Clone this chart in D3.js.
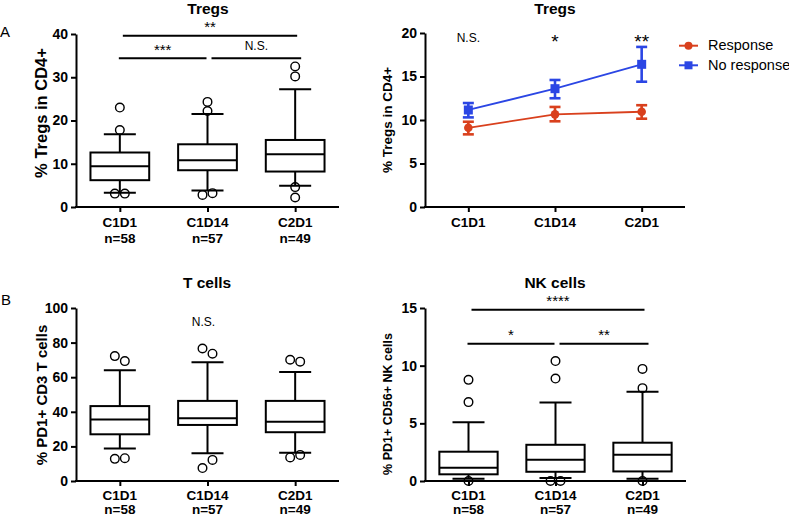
<!DOCTYPE html>
<html>
<head>
<meta charset="utf-8">
<script src="https://cdn.jsdelivr.net/npm/d3@7"></script>
<style>
body { margin: 0; background: #fff; }
text { font-family: "Liberation Sans", Arial, sans-serif; }
</style>
</head>
<body>
<div class="fig"></div>
<script>
var categories = ["C1D1", "C1D14", "C2D1"];
var nLabels = ["n=58", "n=57", "n=49"];

// box stats per category: [whisker low, q1, median, q3, whisker high]
var tregsBox = [[3.3, 6.2, 9.4, 12.6, 16.8], [3.8, 8.5, 10.8, 14.5, 21.5], [4.9, 8.2, 12.2, 15.5, 27.2]];
var tregsOut = [[23.0, 17.8, 3.1, 3.1], [24.3, 22.2, 2.8, 3.2], [32.5, 30.2, 4.6, 2.2]];
var tregsTicks = [0, 10, 20, 30, 40];

var responseMean = [9.1, 10.65, 10.95];
var responseLo = [8.35, 9.85, 10.15];
var responseHi = [9.8, 11.5, 11.7];
var noRespMean = [11.15, 13.6, 16.4];
var noRespLo = [10.3, 12.5, 14.4];
var noRespHi = [11.95, 14.6, 18.4];
var lineTicks = [0, 5, 10, 15, 20];
var lineSig = ["N.S.", "*", "**"];

var tcellBox = [[18.8, 27, 35.6, 43.3, 64], [16.1, 32.4, 36.2, 46.3, 68.6], [16.3, 28.2, 34.3, 46.3, 63]];
var tcellOut = [[72.2, 69.3, 12.8, 13.2], [76.6, 73.6, 7.5, 12.2], [70.1, 69, 13.6, 15.1]];
var tcellTicks = [0, 20, 40, 60, 80, 100];

var nkBox = [[0.2, 0.58, 1.15, 2.54, 5.1], [0.26, 0.8, 1.84, 3.14, 6.8], [0.2, 0.83, 2.28, 3.32, 7.73]];
var nkOut = [[8.77, 6.84, 0], [10.4, 8.88, 0, 0], [9.72, 8.05, 0]];
var nkTicks = [0, 5, 10, 15];

// significance bars: [from, to, y value, label]
var tregsSig = [[0, 2, 39.6, "**"], [0, 1, 34.4, "***"], [1, 2, 34.4, "N.S."]];
var nkSig = [[0, 2, 14.85, "****"], [0, 1, 11.9, "*"], [1, 2, 11.9, "**"]];

var red = "#d9401d", blue = "#2b46e4";

var svg = d3.select(".fig").append("svg")
    .attr("width", 789)
    .attr("height", 516);

function asterisk(g, x, yc, label, fs) {
    g.append("text").text(label)
        .attr("x", x).attr("y", yc + 0.58 * fs)
        .attr("text-anchor", "middle")
        .attr("font-size", fs + "px");
}

function frame(o) {
    var g = svg.append("g");
    var x = d3.scalePoint().domain(categories).range([o.x0, o.x1]).padding(0.5);
    var y = d3.scaleLinear().domain([0, o.max]).range([o.y1, o.y0]);

    var ya = g.append("g").attr("transform", "translate(" + o.x0 + ",0)")
        .call(d3.axisLeft(y).tickValues(o.ticks).tickSize(5).tickSizeOuter(0).tickPadding(3));
    var xa = g.append("g").attr("transform", "translate(0," + o.y1 + ")")
        .call(d3.axisBottom(x).tickSize(5).tickSizeOuter(0).tickFormat(""));
    g.selectAll(".domain").attr("stroke-width", 2).attr("stroke", "#000");
    xa.select(".domain").attr("d", "M" + (o.x0 - 1) + ",0H" + o.x1);
    g.selectAll(".tick line").attr("stroke-width", 2).attr("stroke", "#000");
    ya.selectAll(".tick text").attr("font-size", "14px").attr("font-weight", "bold")
        .attr("fill", "#000").attr("font-family", "Liberation Sans, Arial, sans-serif");

    categories.forEach(function (c, i) {
        g.append("text").text(c).attr("x", x(c)).attr("y", o.y1 + o.lab1)
            .attr("text-anchor", "middle").attr("font-size", "13.5px").attr("font-weight", "bold");
        if (o.nLab) {
            g.append("text").text(nLabels[i]).attr("x", x(c)).attr("y", o.y1 + o.lab2)
                .attr("text-anchor", "middle").attr("font-size", "13.5px").attr("font-weight", "bold");
        }
    });

    g.append("text").text(o.title).attr("x", o.tx).attr("y", o.ty)
        .attr("text-anchor", "middle").attr("font-size", "15.5px").attr("font-weight", "bold");

    g.append("text").text(o.ylabel)
        .attr("transform", "translate(" + o.lx + "," + o.ly + ") rotate(-90)")
        .attr("text-anchor", "middle").attr("font-size", o.lsize + "px").attr("font-weight", "bold");
    return { g: g, x: x, y: y };
}

function boxes(p, box, out) {
    var g = p.g, x = p.x, y = p.y;
    var bw = x.step() * 0.67, cw = 32;
    categories.forEach(function (c, i) {
        var s = box[i], cx = x(c);
        var b = g.append("g").attr("stroke", "#000").attr("stroke-width", 2).attr("fill", "none");
        b.append("line").attr("x1", cx).attr("x2", cx).attr("y1", y(s[0])).attr("y2", y(s[1]));
        b.append("line").attr("x1", cx).attr("x2", cx).attr("y1", y(s[3])).attr("y2", y(s[4]));
        [s[0], s[4]].forEach(function (v) {
            b.append("line").attr("x1", cx - cw / 2).attr("x2", cx + cw / 2).attr("y1", y(v)).attr("y2", y(v));
        });
        b.append("rect").attr("x", cx - bw / 2).attr("width", bw)
            .attr("y", y(s[3])).attr("height", y(s[1]) - y(s[3])).attr("fill", "#fff");
        b.append("line").attr("x1", cx - bw / 2).attr("x2", cx + bw / 2).attr("y1", y(s[2])).attr("y2", y(s[2]));

        // outliers close together get spread sideways
        var pts = out[i].map(function (v) { return { v: v, dx: 0 }; });
        var above = pts.filter(function (d) { return d.v > s[2]; }).sort(function (a, b) { return b.v - a.v; });
        var below = pts.filter(function (d) { return d.v <= s[2]; }).sort(function (a, b) { return a.v - b.v; });
        [above, below].forEach(function (grp) {
            for (var k = 0; k < grp.length - 1; k++) {
                if (Math.abs(y(grp[k].v) - y(grp[k + 1].v)) < 9 && grp[k].dx === 0) {
                    grp[k].dx = -5; grp[k + 1].dx = 5; k++;
                }
            }
        });
        g.selectAll(null).data(pts).enter().append("circle")
            .attr("cx", function (d) { return cx + d.dx; })
            .attr("cy", function (d) { return y(d.v); })
            .attr("r", 4.3)
            .attr("fill", "none").attr("stroke", "#000").attr("stroke-width", 1.4);
    });
}

function sigBars(p, sig) {
    var g = p.g, x = p.x, y = p.y;
    sig.forEach(function (s) {
        var x1 = x(categories[s[0]]), x2 = x(categories[s[1]]);
        if (s[1] - s[0] === 2) { x1 += 3; x2 += 2; }
        else if (s[0] === 0) { x1 -= 1; x2 -= 1; }
        else { x1 += 4; x2 += 6; }
        var yy = y(s[2]);
        g.append("line").attr("x1", x1).attr("x2", x2).attr("y1", yy).attr("y2", yy)
            .attr("stroke", "#000").attr("stroke-width", 2);
        var mx = (x1 + x2) / 2;
        if (s[3] === "N.S.") {
            g.append("text").text(s[3]).attr("x", mx).attr("y", yy - 8.5)
                .attr("text-anchor", "middle").attr("font-size", "12px");
        } else {
            asterisk(g, mx, yy - 12, s[3], 15);
        }
    });
}

// A left: Tregs box plot
var pA = frame({ x0: 76, x1: 339, y0: 34, y1: 207, max: 40, ticks: tregsTicks, nLab: true, lab1: 20, lab2: 35.5,
    title: "Tregs", tx: 208, ty: 13.5, ylabel: "% Tregs in CD4+", lx: 47, ly: 113, lsize: 16.5 });
boxes(pA, tregsBox, tregsOut);
sigBars(pA, tregsSig);

// A right: Tregs by response
var pL = frame({ x0: 425, x1: 685, y0: 33, y1: 207, max: 20, ticks: lineTicks, nLab: false, lab1: 20, lab2: 35.5,
    title: "Tregs", tx: 555, ty: 14, ylabel: "% Tregs in CD4+", lx: 392, ly: 120, lsize: 13.5 });

function series(p, mean, lo, hi, color, square) {
    var g = p.g, x = p.x, y = p.y;
    var line = d3.line().x(function (d, i) { return x(categories[i]); }).y(function (d) { return y(d); });
    g.append("path").datum(mean).attr("d", line).attr("fill", "none")
        .attr("stroke", color).attr("stroke-width", 1.8);
    categories.forEach(function (c, i) {
        var cx = x(c);
        var e = g.append("g").attr("stroke", color).attr("stroke-width", 2.6);
        e.append("line").attr("x1", cx).attr("x2", cx).attr("y1", y(lo[i])).attr("y2", y(hi[i]));
        [lo[i], hi[i]].forEach(function (v) {
            e.append("line").attr("x1", cx - 5.5).attr("x2", cx + 5.5).attr("y1", y(v)).attr("y2", y(v));
        });
        if (square) {
            g.append("rect").attr("x", cx - 4.5).attr("y", y(mean[i]) - 4.5)
                .attr("width", 9).attr("height", 9).attr("fill", color);
        } else {
            g.append("circle").attr("cx", cx).attr("cy", y(mean[i])).attr("r", 4.3).attr("fill", color);
        }
    });
}
series(pL, responseMean, responseLo, responseHi, red, false);
series(pL, noRespMean, noRespLo, noRespHi, blue, true);

categories.forEach(function (c, i) {
    if (lineSig[i] === "N.S.") {
        pL.g.append("text").text(lineSig[i]).attr("x", pL.x(c)).attr("y", pL.y(18.96))
            .attr("text-anchor", "middle").attr("font-size", "12px");
    } else {
        asterisk(pL.g, pL.x(c), pL.y(19.5), lineSig[i], 19);
    }
});

var legend = svg.append("g");
[["Response", red, false], ["No response", blue, true]].forEach(function (d, i) {
    var ly = 45.7 + i * 19.6;
    legend.append("line").attr("x1", 679).attr("x2", 698).attr("y1", ly).attr("y2", ly)
        .attr("stroke", d[1]).attr("stroke-width", 2);
    if (d[2]) {
        legend.append("rect").attr("x", 688.5 - 4).attr("y", ly - 4).attr("width", 8).attr("height", 8).attr("fill", d[1]);
    } else {
        legend.append("circle").attr("cx", 688.5).attr("cy", ly).attr("r", 4).attr("fill", d[1]);
    }
    legend.append("text").text(d[0]).attr("x", 708).attr("y", ly + 4.6).attr("font-size", "14.5px");
});

// B left: T cells
var pT = frame({ x0: 76, x1: 339, y0: 308, y1: 481, max: 100, ticks: tcellTicks, nLab: true, lab1: 18.5, lab2: 32.5,
    title: "T cells", tx: 207, ty: 288, ylabel: "% PD1+ CD3 T cells", lx: 47, ly: 395, lsize: 15 });
boxes(pT, tcellBox, tcellOut);
pT.g.append("text").text("N.S.").attr("x", pT.x("C1D14") - 4).attr("y", pT.y(89.5))
    .attr("text-anchor", "middle").attr("font-size", "12px");

// B right: NK cells
var pN = frame({ x0: 425, x1: 686, y0: 308, y1: 481, max: 15, ticks: nkTicks, nLab: true, lab1: 18.5, lab2: 32.5,
    title: "NK cells", tx: 555, ty: 288, ylabel: "% PD1+ CD56+ NK cells", lx: 392, ly: 404, lsize: 12.5 });
boxes(pN, nkBox, nkOut);
sigBars(pN, nkSig);

svg.append("text").text("A").attr("x", 0).attr("y", 37).attr("font-size", "15px");
svg.append("text").text("B").attr("x", 1).attr("y", 305).attr("font-size", "15px");
</script>
</body>
</html>
